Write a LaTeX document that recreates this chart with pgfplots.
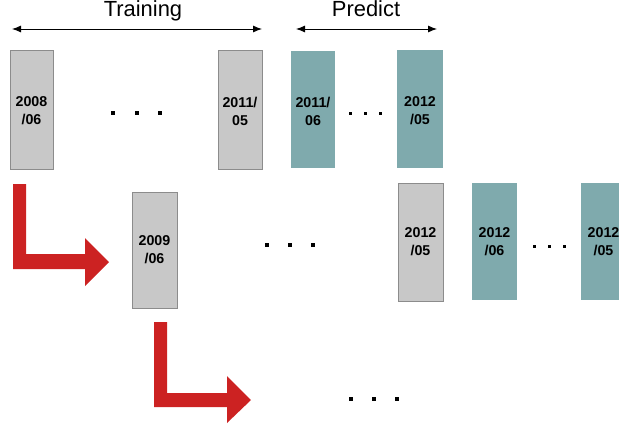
\documentclass[border=0pt]{standalone}
\usepackage{fontspec}
\setmainfont{Liberation Sans}
\usepackage{pgfplots}
\pgfplotsset{compat=1.18}
\usetikzlibrary{arrows.meta}

\definecolor{boxgray}{RGB}{200,200,200}
\definecolor{boxedge}{RGB}{140,140,140}
\definecolor{teal}{RGB}{127,170,173}
\definecolor{arrowred}{RGB}{204,34,34}

% one month box: x0, x1, y0, y1
\newcommand{\graybox}[4]{\addplot[fill=boxgray, draw=boxedge, line width=0.8bp]
  coordinates {(#1,#3) (#2,#3) (#2,#4) (#1,#4)} --cycle;}
\newcommand{\tealbox}[4]{\addplot[fill=teal, draw=none]
  coordinates {(#1,#3) (#2,#3) (#2,#4) (#1,#4)} --cycle;}
\newcommand{\lbl}[3]{\node[font=\bfseries\fontsize{14.3}{18}\selectfont, align=center]
  at (axis cs:#1,#2) {#3};}

\begin{document}
\begin{tikzpicture}
\begin{axis}[
  scale only axis, width=619bp, height=432bp,
  xmin=0, xmax=619, ymin=0, ymax=432, y dir=reverse,
  hide axis, clip=true,
  ]
  % header arrows
  \addplot[{Latex[length=9bp,width=7bp]}-{Latex[length=9bp,width=7bp]}, line width=0.9bp]
    coordinates {(12,29) (262,29)};
  \addplot[{Latex[length=9bp,width=7bp]}-{Latex[length=9bp,width=7bp]}, line width=0.9bp]
    coordinates {(296,29) (437,29)};

  % row 1
  \graybox{10}{53}{50}{169}
  \graybox{218}{262}{50}{169}
  \tealbox{291}{335}{51}{168}
  \tealbox{397}{443}{50}{168}
  % row 2
  \graybox{132}{177}{192}{308}
  \graybox{398}{443}{183}{301}
  \tealbox{472}{517}{183}{300}
  \tealbox{581}{626}{183}{300}

  % red arrows
  \addplot[fill=arrowred, draw=none] coordinates {(13,184) (26,184) (26,254) (85,254)
    (85,238) (109,262) (85,286) (85,269) (13,269)} --cycle;
  \addplot[fill=arrowred, draw=none] coordinates {(154,322) (167,322) (167,393) (227,393)
    (227,376) (251,400) (227,423) (227,407) (154,407)} --cycle;

  % ellipsis dots
  \addplot[only marks, mark=square*, mark size=1.5bp, black]
    coordinates {(113,113) (137,113) (160,113)
                 (267,245) (290,245) (313,245)
                 (351,399) (374,399) (397,399)};
  \addplot[only marks, mark=square*, mark size=1.0bp, black]
    coordinates {(350,113) (365,113) (380,113)
                 (534,246) (549,246) (564,246)};

  % titles
  \node[anchor=base, font=\fontsize{22}{26}\selectfont] at (axis cs:143,17) {Training};
  \node[anchor=base, font=\fontsize{22}{26}\selectfont] at (axis cs:366,17) {Predict};

  % box labels
  \lbl{31.5}{111}{2008\\/06}
  \lbl{240}{111}{2011/\\05}
  \lbl{313}{111}{2011/\\06}
  \lbl{420}{111}{2012\\/05}
  \lbl{154.5}{250}{2009\\/06}
  \lbl{420.5}{242}{2012\\/05}
  \lbl{494.5}{242}{2012\\/06}
  \lbl{603.5}{242}{2012\\/05}
\end{axis}
\pgfresetboundingbox
\path (current axis.south west) rectangle (current axis.north east);
\end{tikzpicture}
\end{document}
